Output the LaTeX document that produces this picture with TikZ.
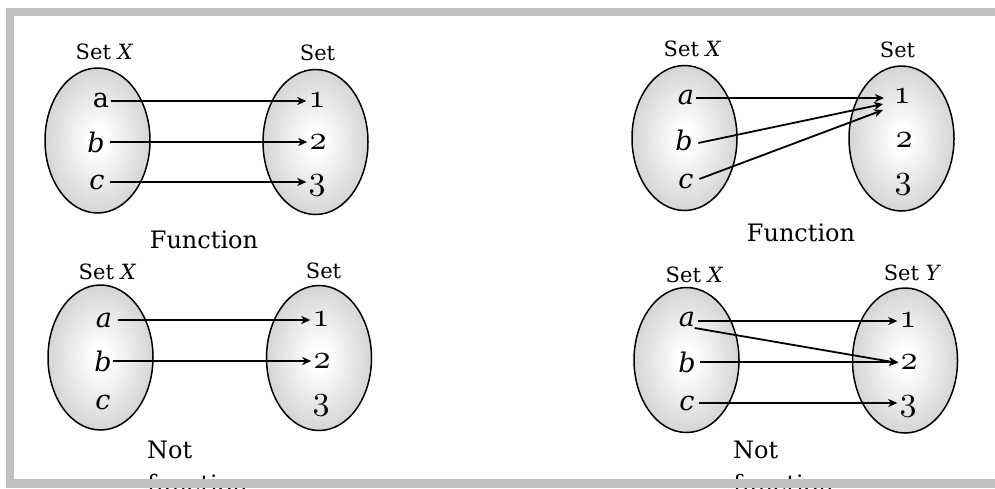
\documentclass[tikz,border=0pt]{standalone}
\usepackage{fontspec}
\usepackage{graphicx}
\setmainfont{DejaVu Serif}
\usetikzlibrary{shapes.geometric,arrows.meta}
\newcommand\osdig[1]{\scalebox{3.4}{\fontsize{10}{12}\usefont{OML}{lmm}{m}{it}#1}}
\pgfdeclareradialshading{setshade}{\pgfpoint{0bp}{0bp}}{color(0bp)=(white); color(4bp)=(white); color(50bp)=(black!36)}
\definecolor{framegray}{HTML}{C0C0C0}
\tikzset{
  setell/.style={ellipse, draw=black, line width=1.5pt, shading=setshade, minimum width=105pt, minimum height=145pt, inner sep=0pt},
  settitle/.style={font=\fontsize{21}{23}\selectfont, inner sep=0pt},
  elem/.style={font=\fontsize{27}{29}\selectfont\itshape, inner sep=1.5pt},
  elemup/.style={font=\fontsize{27}{29}\selectfont, inner sep=1.5pt},
  dig/.style={inner sep=2pt},
  caption/.style={font=\fontsize{24}{27}\selectfont, inner sep=0pt},
  capleft/.style={font=\fontsize{24}{34}\selectfont, inner sep=0pt, align=left, anchor=north west},
  arr/.style={line width=1.8pt, -{Stealth[length=9pt,width=8pt,inset=2.5pt]}},
  band/.style={fill=framegray, draw=none}
}
\begin{document}
\begin{tikzpicture}[x=1pt,y=-1pt]
\useasboundingbox (0,0) rectangle (995,488);
\fill[white] (0,0) rectangle (995,488);

% ---------- top-left panel ----------
\node[setell] (LX1) at (97.5,140.5) {};
\node[setell] (RY1) at (315.5,142) {};
\node[settitle] (tX1) at (104.5,52) {Set \textit{X}};
\node[settitle] (tY1) at (317.5,53) {Set};
\node[elemup] (a1) at (101,100) {a};
\node[elem] (b1) at (96,142) {b};
\node[elem] (c1) at (97,182) {c};
\node[dig] (n11) at (317,100) {\osdig{1}};
\node[dig] (n12) at (318,142) {\osdig{2}};
\node[dig] (n13) at (317,185) {\osdig{3}};
\draw[arr] (a1.east) ++(0,1) coordinate (a1s) -- (n11.west |- a1s);
\draw[arr] (b1.east) ++(4,0) coordinate (b1s) -- (n12.west |- b1s);
\draw[arr] (c1.east) ++(4,0) coordinate (c1s) -- (n13.west |- c1s);
\node[caption] (cap1) at (204,240) {Function};

% ---------- top-right panel ----------
\node[setell] (LX2) at (684.5,138) {};
\node[setell] (RY2) at (901.5,138.5) {};
\node[settitle] (tX2) at (692.5,49) {Set \textit{X}};
\node[settitle] (tY2) at (897.5,50) {Set};
\node[elem] (a2) at (686,97) {a};
\node[elem] (b2) at (684,140) {b};
\node[elem] (c2) at (686,181) {c};
\node[dig] (n21) at (902,96) {\osdig{1}};
\node[dig] (n22) at (904,140) {\osdig{2}};
\node[dig] (n23) at (903,184) {\osdig{3}};
\coordinate (t21) at (884,98);
\coordinate (t22) at (883,104);
\coordinate (t23) at (883,110);
\draw[arr] (a2.east) ++(0,1) coordinate (a2s) -- (t21);
\draw[arr] (b2.east) ++(4,3) coordinate (b2s) -- (t22);
\draw[arr] (c2.east) ++(4,-2) coordinate (c2s) -- (t23);
\node[caption] (cap2) at (801,233) {Function};

% ---------- bottom-left panel ----------
\node[setell] (LX3) at (100.5,357.5) {};
\node[setell] (RY3) at (319,358) {};
\node[settitle] (tX3) at (107.5,272) {Set \textit{X}};
\node[settitle] (tY3) at (323.5,271) {Set};
\node[elem] (a3) at (104,320) {a};
\node[elem] (b3) at (103,361) {b};
\node[elem] (c3) at (103,402) {c};
\node[dig] (n31) at (321,319) {\osdig{1}};
\node[dig] (n32) at (322,361) {\osdig{2}};
\node[dig] (n33) at (321,405) {\osdig{3}};
\draw[arr] (a3.east) ++(4,0) coordinate (a3s) -- (n31.west |- a3s);
\draw[arr] (b3.east) -- (n32.west |- b3.east);
\node[capleft] (cap3) at (147,441) {Not\\function};

% ---------- bottom-right panel ----------
\node[setell] (LX4) at (686.5,360) {};
\node[setell] (RY4) at (905,360.5) {};
\node[settitle] (tX4) at (694.5,275) {Set \textit{X}};
\node[settitle] (tY4) at (912.5,273) {Set \textit{Y}};
\node[elem] (a4) at (687,319) {a};
\node[elem] (b4) at (687,362) {b};
\node[elem] (c4) at (687,403) {c};
\node[dig] (n41) at (908,320) {\osdig{1}};
\node[dig] (n42) at (909,362) {\osdig{2}};
\node[dig] (n43) at (908,406) {\osdig{3}};
\draw[arr] (a4.east) ++(1,2) coordinate (a4s) -- (n41.west |- a4s);
\draw[arr] (a4.east) ++(-2,9) coordinate (a4t) -- ([yshift=-1pt]n42.west |- b4.east);
\draw[arr] (b4.east) ++(3,0) coordinate (b4s) -- (n42.west |- b4s);
\draw[arr] (c4.east) ++(3,0) coordinate (c4s) -- (n43.west |- c4s);
\node[capleft] (cap4) at (733,441) {Not\\function};

% ---------- frame ----------
\fill[band] (6,8) rectangle (995,16);
\fill[band] (6,8) rectangle (14,488);
\fill[band] (6,479) rectangle (995,488);
\end{tikzpicture}
\end{document}
